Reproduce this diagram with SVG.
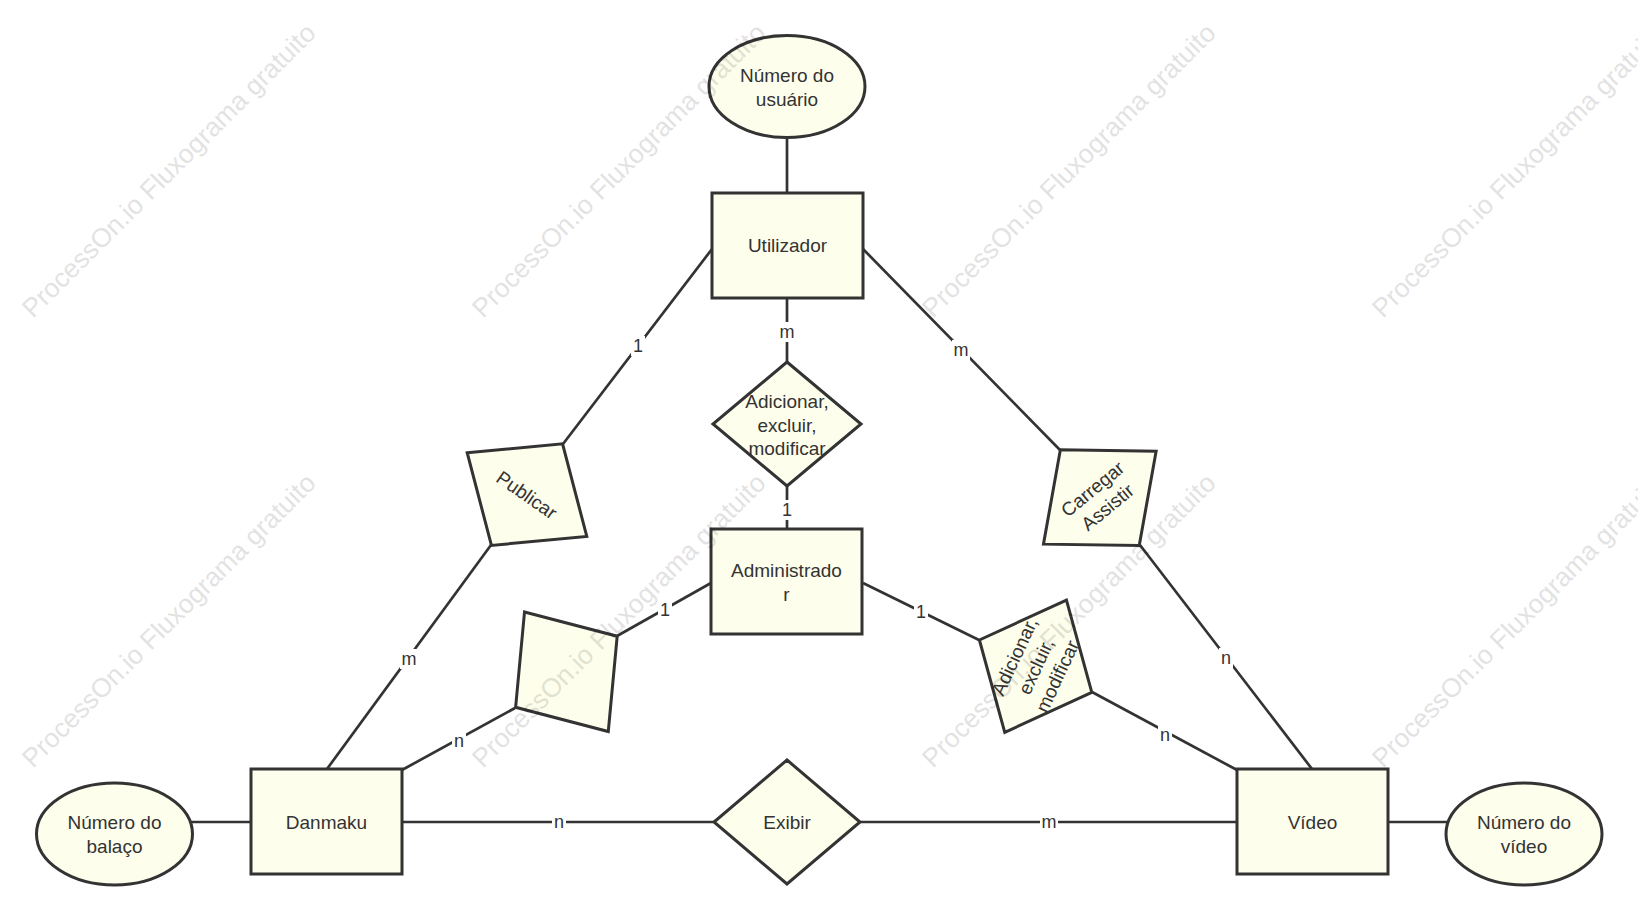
<svg xmlns="http://www.w3.org/2000/svg" width="1638" height="921" viewBox="0 0 1638 921">
<style>
.shape{fill:#fefeec;stroke:#333;stroke-width:3}
.edge{stroke:#333;stroke-width:2.7;fill:none}
.t{font-family:"Liberation Sans",Arial,sans-serif;font-size:19px;fill:#333;text-anchor:middle}
.lbl{font-family:"Liberation Sans",Arial,sans-serif;font-size:18px;fill:#333;text-anchor:middle;dominant-baseline:central}
.lb{fill:#fff}
.wm{font-family:"Liberation Sans",Arial,sans-serif;font-size:26.5px;fill:#000;opacity:0.11}
</style>
<rect width="1638" height="921" fill="#fff"/>
<g id="connectors">
<line class="edge" x1="787" y1="137" x2="787" y2="193"/>
<line class="edge" x1="787" y1="298" x2="787" y2="362"/>
<line class="edge" x1="787" y1="486" x2="787" y2="529"/>
<line class="edge" x1="712" y1="249" x2="563" y2="444"/>
<line class="edge" x1="491" y1="545" x2="327" y2="769"/>
<line class="edge" x1="863" y1="249" x2="1060" y2="450"/>
<line class="edge" x1="1140" y1="545" x2="1312" y2="769"/>
<line class="edge" x1="711" y1="583" x2="617" y2="636"/>
<line class="edge" x1="515" y1="708" x2="402" y2="770"/>
<line class="edge" x1="863" y1="583" x2="979" y2="640"/>
<line class="edge" x1="1092" y1="692" x2="1237" y2="770"/>
<line class="edge" x1="402" y1="822" x2="714" y2="822"/>
<line class="edge" x1="860" y1="822" x2="1237" y2="822"/>
<line class="edge" x1="191" y1="822" x2="251" y2="822"/>
<line class="edge" x1="1387" y1="822" x2="1447" y2="822"/>
<g id="labels">
<rect class="lb" x="779" y="322" width="16" height="20"/><text class="lbl" x="787" y="332">m</text>
<rect class="lb" x="780" y="500" width="14" height="20"/><text class="lbl" x="787" y="510">1</text>
<rect class="lb" x="631" y="336" width="14" height="20"/><text class="lbl" x="638" y="346">1</text>
<rect class="lb" x="400" y="649" width="18" height="20"/><text class="lbl" x="409" y="659">m</text>
<rect class="lb" x="952" y="340" width="18" height="20"/><text class="lbl" x="961" y="350">m</text>
<rect class="lb" x="1219" y="648" width="14" height="20"/><text class="lbl" x="1226" y="658">n</text>
<rect class="lb" x="658" y="600" width="14" height="20"/><text class="lbl" x="665" y="610">1</text>
<rect class="lb" x="452" y="731" width="14" height="20"/><text class="lbl" x="459" y="741">n</text>
<rect class="lb" x="914" y="602" width="14" height="20"/><text class="lbl" x="921" y="612">1</text>
<rect class="lb" x="1158" y="725" width="14" height="20"/><text class="lbl" x="1165" y="735">n</text>
<rect class="lb" x="552" y="812" width="14" height="20"/><text class="lbl" x="559" y="822">n</text>
<rect class="lb" x="1040" y="812" width="18" height="20"/><text class="lbl" x="1049" y="822">m</text>
</g>
</g>
<g id="attr-usuario">
<ellipse class="shape" cx="787" cy="86.5" rx="78" ry="51"/>
<text class="t" x="787" y="82">Número do</text>
<text class="t" x="787" y="105.5">usuário</text>
</g>
<g id="utilizador">
<rect class="shape" x="712" y="193" width="151" height="105"/>
<text class="t" x="787.5" y="252">Utilizador</text>
</g>
<g id="rel-admin-util">
<polygon class="shape" points="787,362 861,424 787,486 713,424"/>
<text class="t" x="787" y="408">Adicionar,</text>
<text class="t" x="787" y="431.5">excluir,</text>
<text class="t" x="787" y="455">modificar</text>
</g>
<g id="administrador">
<rect class="shape" x="711" y="529" width="151" height="105"/>
<text class="t" x="786.5" y="577">Administrado</text>
<text class="t" x="786.5" y="600.5">r</text>
</g>
<g id="publicar" transform="translate(527,494.6) rotate(35)">
<polygon class="shape" points="-73,0 0,-62 73,0 0,62"/>
<text class="t" x="0" y="7">Publicar</text>
</g>
<g id="carregar" transform="translate(1099.8,497.7) rotate(-39.5)">
<polygon class="shape" points="-73,0 0,-62 73,0 0,62"/>
<text class="t" x="0" y="-4.75">Carregar</text>
<text class="t" x="0" y="18.75">Assistir</text>
</g>
<g id="rel-admin-danmaku" transform="translate(566.4,671.75) rotate(55)">
<polygon class="shape" points="-73,0 0,-62 73,0 0,62"/>
</g>
<g id="rel-admin-video" transform="translate(1035.6,666.2) rotate(-65)">
<polygon class="shape" points="-73,0 0,-62 73,0 0,62"/>
<text class="t" x="0" y="-16.5">Adicionar,</text>
<text class="t" x="0" y="7">excluir,</text>
<text class="t" x="0" y="30.5">modificar</text>
</g>
<g id="danmaku">
<rect class="shape" x="251" y="769" width="151" height="105"/>
<text class="t" x="326.5" y="828.5">Danmaku</text>
</g>
<g id="attr-balaco">
<ellipse class="shape" cx="114.5" cy="834" rx="78" ry="51"/>
<text class="t" x="114.5" y="829">Número do</text>
<text class="t" x="114.5" y="852.5">balaço</text>
</g>
<g id="exibir">
<polygon class="shape" points="787,760 860,822 787,884 714,822"/>
<text class="t" x="787" y="829">Exibir</text>
</g>
<g id="video">
<rect class="shape" x="1237" y="769" width="151" height="105"/>
<text class="t" x="1312.5" y="828.5">Vídeo</text>
</g>
<g id="attr-video">
<ellipse class="shape" cx="1524" cy="834" rx="78" ry="51"/>
<text class="t" x="1524" y="829">Número do</text>
<text class="t" x="1524" y="852.5">vídeo</text>
</g>
<g id="watermark">
<text class="wm" transform="translate(33,319) rotate(-45)">ProcessOn.io Fluxograma gratuito</text>
<text class="wm" transform="translate(483,319) rotate(-45)">ProcessOn.io Fluxograma gratuito</text>
<text class="wm" transform="translate(933,319) rotate(-45)">ProcessOn.io Fluxograma gratuito</text>
<text class="wm" transform="translate(1383,319) rotate(-45)">ProcessOn.io Fluxograma gratuito</text>
<text class="wm" transform="translate(33,769) rotate(-45)">ProcessOn.io Fluxograma gratuito</text>
<text class="wm" transform="translate(483,769) rotate(-45)">ProcessOn.io Fluxograma gratuito</text>
<text class="wm" transform="translate(933,769) rotate(-45)">ProcessOn.io Fluxograma gratuito</text>
<text class="wm" transform="translate(1383,769) rotate(-45)">ProcessOn.io Fluxograma gratuito</text>
</g>
</svg>
